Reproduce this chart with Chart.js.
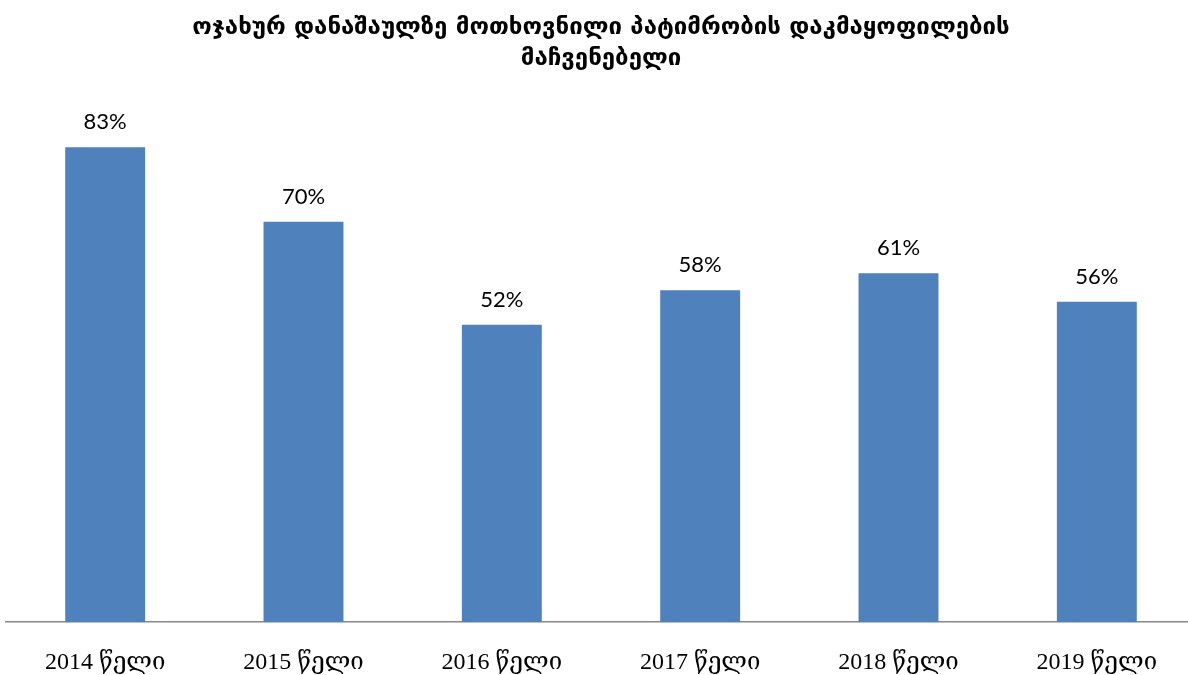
<!DOCTYPE html>
<html>
<head>
<meta charset="utf-8">
<script src="https://cdn.jsdelivr.net/npm/chart.js@4"></script>
<style>
  html, body { margin: 0; padding: 0; background: #fff; overflow: hidden; }
  #wrap { width: 1196px; height: 675px; }
</style>
</head>
<body>
<div id="wrap"><canvas id="grafica"></canvas></div>
<script>
const titulo = ['ოჯახურ დანაშაულზე მოთხოვნილი პატიმრობის დაკმაყოფილების', 'მაჩვენებელი'];
const anios = ['2014 წელი', '2015 წელი', '2016 წელი', '2017 წელი', '2018 წელი', '2019 წელი'];
const valores = [83, 70, 52, 58, 61, 56];

// etiquetas encima de cada barra
const etiquetas = {
    id: 'etiquetas',
    afterDatasetsDraw(chart) {
        const ctx = chart.ctx;
        const meta = chart.getDatasetMeta(0);
        ctx.save();
        ctx.font = '22px Lato, "Open Sans", sans-serif';
        ctx.fillStyle = '#000';
        ctx.textAlign = 'center';
        ctx.textBaseline = 'middle';
        meta.data.forEach((bar, i) => {
            ctx.fillText(valores[i] + '%', bar.x, bar.y - 25);
        });
        ctx.restore();
    }
};

const ctx = document.getElementById('grafica');
new Chart(ctx, {
    type: 'bar',
    data: {
        labels: anios,
        datasets: [{
            label: '',
            data: valores,
            backgroundColor: '#4F81BD',
            borderWidth: 0,
            barPercentage: 0.403,
            categoryPercentage: 1
        }]
    },
    options: {
        responsive: true,
        maintainAspectRatio: false,
        animation: false,
        layout: { padding: { left: 6, right: 0, top: 6, bottom: -28 } },
        scales: {
            x: {
                grid: { display: false, drawTicks: false },
                border: { display: true, color: '#888', width: 1.5 },
                ticks: {
                    color: '#000',
                    padding: 26,
                    font: { family: '"Liberation Serif", "DejaVu Serif", serif', size: 24 }
                }
            },
            y: {
                display: false,
                min: 0,
                max: 94
            }
        },
        plugins: {
            legend: { display: false },
            tooltip: { enabled: false },
            title: {
                display: true,
                text: titulo,
                color: '#000',
                font: { family: '"DejaVu Sans", sans-serif', size: 24, weight: 'bold', lineHeight: 1.3 },
                padding: { top: 6, bottom: 10 }
            }
        }
    },
    plugins: [etiquetas]
});
</script>
</body>
</html>
